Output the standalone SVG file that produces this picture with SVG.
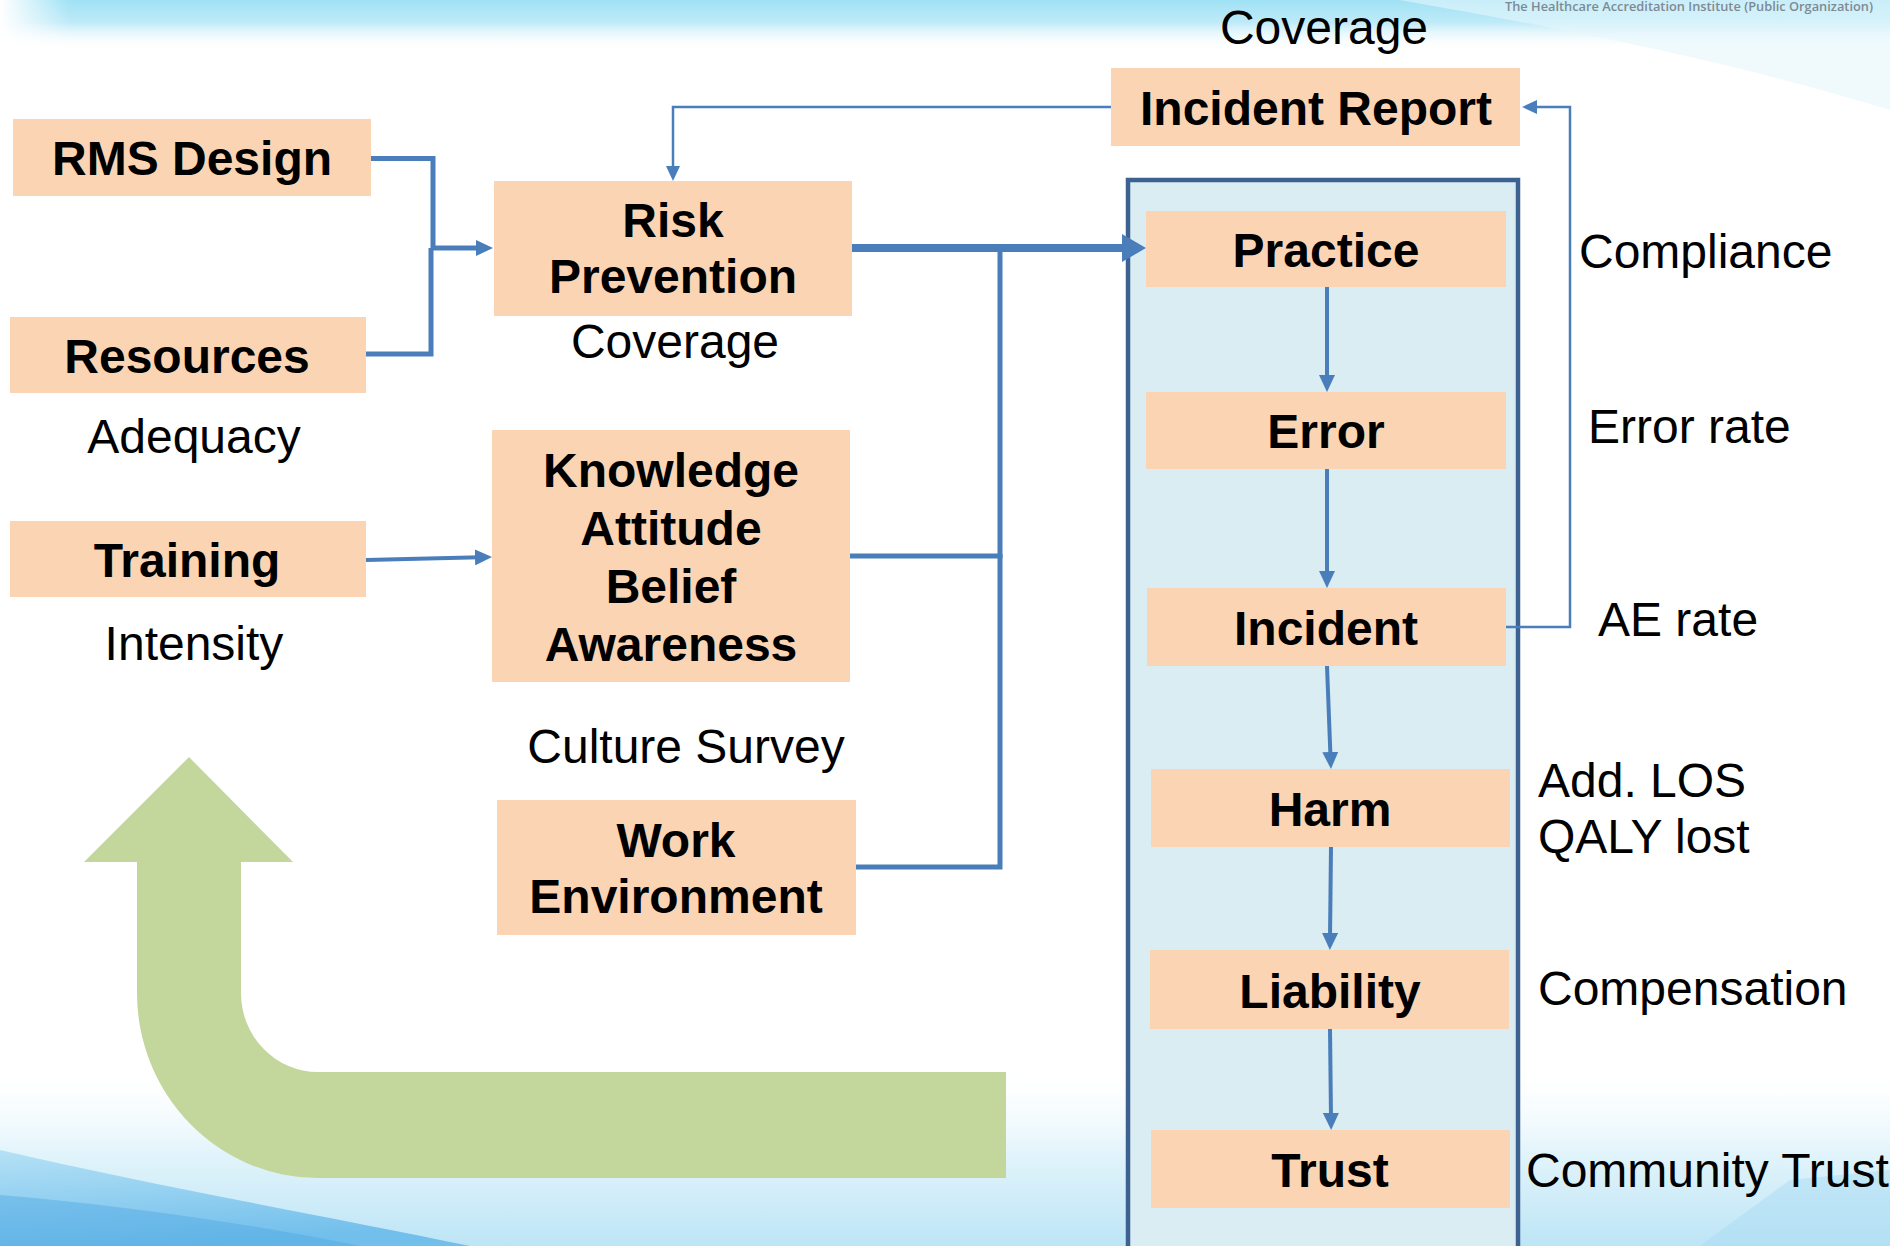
<svg xmlns="http://www.w3.org/2000/svg" width="1890" height="1246" viewBox="0 0 1890 1246">
<defs>
<linearGradient id="gTop" x1="0" y1="0" x2="0" y2="1">
<stop offset="0" stop-color="#9fe2f5"/>
<stop offset="0.45" stop-color="#bfeaf8"/>
<stop offset="1" stop-color="#ffffff" stop-opacity="0"/>
</linearGradient>
<linearGradient id="gTopL" x1="0" y1="0" x2="1" y2="0">
<stop offset="0" stop-color="#ffffff"/>
<stop offset="1" stop-color="#ffffff" stop-opacity="0"/>
</linearGradient>
<linearGradient id="gBot" x1="0" y1="0" x2="0" y2="1">
<stop offset="0" stop-color="#ffffff" stop-opacity="0"/>
<stop offset="0.5" stop-color="#e2f4fb"/>
<stop offset="1" stop-color="#bde5f6"/>
</linearGradient>
<linearGradient id="gWave" x1="0" y1="0" x2="0.3" y2="1">
<stop offset="0" stop-color="#a6dbf4"/>
<stop offset="1" stop-color="#58b2e8"/>
</linearGradient>
<marker id="arrM" viewBox="0 0 17 16" markerWidth="17" markerHeight="16" refX="5" refY="8" markerUnits="userSpaceOnUse" orient="auto">
<path d="M0,0 L17,8 L0,16 Z" fill="#4a7ebb"/>
</marker>
<marker id="arrL" viewBox="0 0 24 28" markerWidth="24" markerHeight="28" refX="6" refY="14" markerUnits="userSpaceOnUse" orient="auto">
<path d="M0,0 L24,14 L0,28 Z" fill="#4a7ebb"/>
</marker>
<marker id="arrS" viewBox="0 0 15 14" markerWidth="15" markerHeight="14" refX="5" refY="7" markerUnits="userSpaceOnUse" orient="auto">
<path d="M0,0 L15,7 L0,14 Z" fill="#4a7ebb"/>
</marker>
</defs>
<style>
.box{fill:#fbd4b4}
.lbl{font-family:"Liberation Sans",Arial,sans-serif;font-weight:bold;font-size:48px;fill:#000;text-anchor:middle}
.note{font-family:"Liberation Sans",Arial,sans-serif;font-size:48px;fill:#000}
.mid{text-anchor:middle}
.conn{fill:none;stroke:#4a7ebb;stroke-linejoin:miter}
.w5{stroke-width:5}
.w4{stroke-width:4}
.w8{stroke-width:8}
.w2{stroke-width:2.5}
</style>

<!-- background -->
<rect x="0" y="0" width="1890" height="1246" fill="#ffffff"/>
<rect x="0" y="0" width="1890" height="50" fill="url(#gTop)"/>
<path d="M1400,0 C1540,25 1710,55 1890,110 L1890,0 Z" fill="#e6f6fc" opacity="0.6"/>
<rect x="0" y="0" width="70" height="60" fill="url(#gTopL)"/>
<text x="1689" y="11" font-family="'Open Sans','Liberation Sans',sans-serif" font-weight="600" font-size="12" fill="#7d8a94" text-anchor="middle" textLength="368" lengthAdjust="spacingAndGlyphs">The Healthcare Accreditation Institute (Public Organization)</text>
<rect x="0" y="1060" width="1890" height="186" fill="url(#gBot)"/>
<path d="M0,1150 C150,1185 320,1215 470,1246 L0,1246 Z" fill="url(#gWave)" opacity="0.75"/>
<path d="M0,1195 C120,1205 260,1225 360,1246 L0,1246 Z" fill="#4fa9e3" opacity="0.45"/>
<path d="M1700,1246 L1790,1180 L1890,1170 L1890,1246 Z" fill="#a9dcf3" opacity="0.5"/>

<!-- green return arrow -->
<path id="greenArrow" d="M84,862 L189,757 L293,862 L241,862 L241,993 A77,79 0 0 0 318,1072 L1006,1072 L1006,1178 L318,1178 A181,185 0 0 1 137,993 L137,862 Z" fill="#c3d69b"/>

<!-- outcome panel -->
<rect id="panel" x="1128" y="180" width="390" height="1090" fill="#daedf3" stroke="#3d6190" stroke-width="4.5"/>

<!-- connectors -->
<g id="connectors">
<path class="conn w5" d="M371,158.5 H433 V248 H481" marker-end="url(#arrM)"/>
<path class="conn w5" d="M366,354 H431 V248"/>
<path class="conn w4" d="M366,560 L480,557.3" marker-end="url(#arrM)"/>
<path class="conn w8" d="M852,248 H1128" marker-end="url(#arrL)"/>
<path class="conn w5" d="M850,556 H1000 V248"/>
<path class="conn w5" d="M856,867 H1000 V554"/>
<path class="conn w2" d="M1111,107 H673 V171" marker-end="url(#arrS)"/>
<path class="conn w2" d="M1506,627 H1570 V107 H1532" marker-end="url(#arrS)"/>
<path class="conn w4" d="M1327,287 V380" marker-end="url(#arrM)"/>
<path class="conn w4" d="M1327,469 V576" marker-end="url(#arrM)"/>
<path class="conn w4" d="M1327,666 L1330.5,757" marker-end="url(#arrM)"/>
<path class="conn w4" d="M1331,847 L1330,938" marker-end="url(#arrM)"/>
<path class="conn w4" d="M1330,1029 L1331,1118" marker-end="url(#arrM)"/>
</g>

<!-- nodes -->
<g id="rms-design"><rect class="box" x="13" y="119" width="358" height="77"/><text class="lbl" x="192" y="175">RMS Design</text></g>
<g id="resources"><rect class="box" x="10" y="317" width="356" height="76"/><text class="lbl" x="187" y="373">Resources</text></g>
<g id="training"><rect class="box" x="10" y="521" width="356" height="76"/><text class="lbl" x="187" y="577">Training</text></g>
<g id="risk-prevention"><rect class="box" x="494" y="181" width="358" height="135"/><text class="lbl" x="673" y="237">Risk</text><text class="lbl" x="673" y="293">Prevention</text></g>
<g id="kaba"><rect class="box" x="492" y="430" width="358" height="252"/><text class="lbl" x="671" y="487">Knowledge</text><text class="lbl" x="671" y="545">Attitude</text><text class="lbl" x="671" y="603">Belief</text><text class="lbl" x="671" y="661">Awareness</text></g>
<g id="work-environment"><rect class="box" x="497" y="800" width="359" height="135"/><text class="lbl" x="676" y="857">Work</text><text class="lbl" x="676" y="913">Environment</text></g>
<g id="incident-report"><rect class="box" x="1111" y="68" width="409" height="78"/><text class="lbl" x="1316" y="125">Incident Report</text></g>
<g id="practice"><rect class="box" x="1146" y="211" width="360" height="76"/><text class="lbl" x="1326" y="267">Practice</text></g>
<g id="error"><rect class="box" x="1146" y="392" width="360" height="77"/><text class="lbl" x="1326" y="448">Error</text></g>
<g id="incident"><rect class="box" x="1147" y="588" width="359" height="78"/><text class="lbl" x="1326" y="645">Incident</text></g>
<g id="harm"><rect class="box" x="1151" y="769" width="359" height="78"/><text class="lbl" x="1330" y="826">Harm</text></g>
<g id="liability"><rect class="box" x="1150" y="950" width="359" height="79"/><text class="lbl" x="1330" y="1008">Liability</text></g>
<g id="trust"><rect class="box" x="1151" y="1130" width="359" height="78"/><text class="lbl" x="1330" y="1187">Trust</text></g>

<!-- measure labels -->
<g id="labels">
<text class="note mid" x="1324" y="44">Coverage</text>
<text class="note mid" x="675" y="358">Coverage</text>
<text class="note mid" x="194" y="453">Adequacy</text>
<text class="note mid" x="194" y="660">Intensity</text>
<text class="note mid" x="686" y="763">Culture Survey</text>
<text class="note" x="1579" y="268">Compliance</text>
<text class="note" x="1588" y="443">Error rate</text>
<text class="note" x="1598" y="636">AE rate</text>
<text class="note" x="1538" y="797">Add. LOS</text>
<text class="note" x="1538" y="853">QALY lost</text>
<text class="note" x="1538" y="1005">Compensation</text>
<text class="note" x="1526" y="1187">Community Trust</text>
</g>
</svg>
